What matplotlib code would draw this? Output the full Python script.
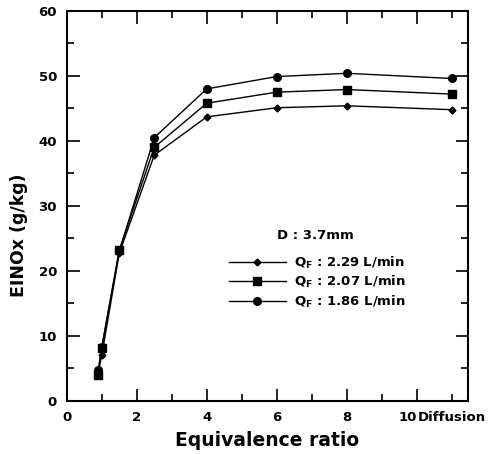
import matplotlib
matplotlib.use("Agg")
import matplotlib.pyplot as plt
from matplotlib.ticker import FixedLocator, FixedFormatter, MultipleLocator

plt.rcParams["font.family"] = ["DejaVu Sans"]
plt.rcParams["font.weight"] = "bold"
plt.rcParams["mathtext.fontset"] = "custom"
plt.rcParams["mathtext.rm"] = "DejaVu Sans:bold"
plt.rcParams["mathtext.default"] = "rm"

# equivalence ratio (11 = diffusion flame)
phi = [0.9, 1.0, 1.5, 2.5, 4.0, 6.0, 8.0, 11.0]
einox_229 = [4.5, 7.0, 22.7, 37.8, 43.7, 45.1, 45.4, 44.8]
einox_207 = [4.0, 8.1, 23.2, 39.0, 45.8, 47.5, 47.9, 47.2]
einox_186 = [4.8, 8.3, 23.0, 40.5, 48.0, 49.9, 50.4, 49.6]

series = [
    ("Q$_{F}$ : 2.29 L/min", einox_229, "D", 3.5),
    ("Q$_{F}$ : 2.07 L/min", einox_207, "s", 5.5),
    ("Q$_{F}$ : 1.86 L/min", einox_186, "o", 5.5),
]

fig = plt.figure(figsize=(4.98, 4.54), dpi=100)
ax = fig.add_axes([0.134, 0.117, 0.805, 0.859])

for label, vals, marker, ms in series:
    ax.plot(phi, vals, color="black", lw=1.0, marker=marker, ms=ms, label=label)

ax.set_xlim(0, 11.45)
ax.set_ylim(0, 60)

ax.xaxis.set_major_locator(FixedLocator([0, 2, 4, 6, 8, 10]))
ax.xaxis.set_major_formatter(FixedFormatter(["0", "2", "4", "6", "8", "10"]))
ax.xaxis.set_minor_locator(FixedLocator([1, 3, 5, 7, 9, 11]))
ax.xaxis.set_minor_formatter(FixedFormatter(["", "", "", "", "", "Diffusion"]))
ax.yaxis.set_major_locator(MultipleLocator(10))
ax.yaxis.set_minor_locator(MultipleLocator(5))

ax.tick_params(which="both", direction="in", top=True, right=True, width=1.2,
               labelsize=9.5, pad=7)
ax.tick_params(which="major", length=9)
ax.tick_params(which="minor", length=5)
for lab in ax.get_xticklabels(minor=True):
    lab.set_fontweight("bold")
ax.xaxis.get_major_ticks()[5].label1.set_horizontalalignment("right")
for s in ax.spines.values():
    s.set_linewidth(1.5)

ax.set_xlabel("Equivalence ratio", fontsize=13.5, fontweight="bold", labelpad=5)
ax.set_ylabel("EINOx (g/kg)", fontsize=12.5, fontweight="bold")
ax.yaxis.set_label_coords(-0.097, 0.425)

ax.text(0.525, 0.415, "D : 3.7mm", transform=ax.transAxes, fontsize=9.5, fontweight="bold")
ax.legend(loc="upper left", bbox_to_anchor=(0.405, 0.375), frameon=False, fontsize=9.5,
          handlelength=4.3, handletextpad=0.6, labelspacing=0.25, borderpad=0, borderaxespad=0)

fig.savefig("out.png", dpi=100)
